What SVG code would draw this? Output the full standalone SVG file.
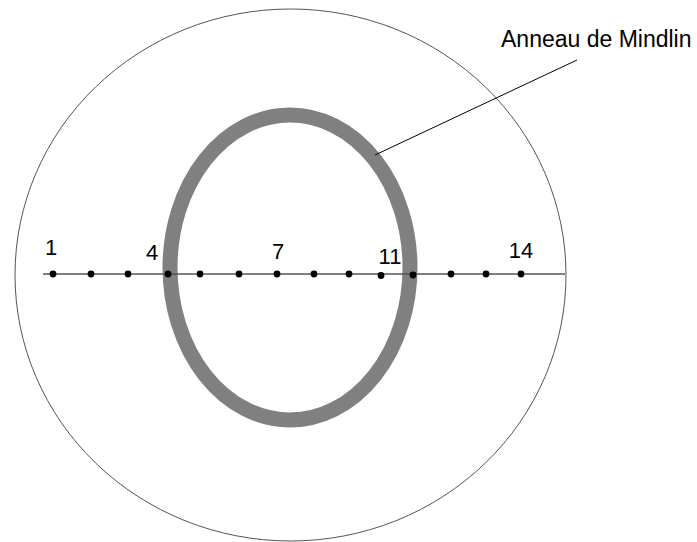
<svg xmlns="http://www.w3.org/2000/svg" width="697" height="542" viewBox="0 0 697 542">
<style>
.lbl{font-family:"Liberation Sans",Arial,sans-serif;font-size:22px;fill:#000}
.dot{fill:#000}
</style>
<rect width="697" height="542" fill="#fff"/>
<g id="outer"><ellipse cx="290.5" cy="275" rx="275.5" ry="266" fill="none" stroke="#555" stroke-width="1"/></g>
<g id="ring"><ellipse cx="290" cy="267.5" rx="120" ry="152.5" fill="none" stroke="#808080" stroke-width="15"/></g>
<g id="connectors">
<line x1="43" y1="274" x2="565" y2="274" stroke="#555" stroke-width="1.3"/>
<line x1="577" y1="60" x2="375" y2="155" stroke="#000" stroke-width="1"/>
</g>
<g id="points">
<circle class="dot" cx="53" cy="274" r="3.4"/>
<circle class="dot" cx="91" cy="274" r="3.4"/>
<circle class="dot" cx="128" cy="274" r="3.4"/>
<circle class="dot" cx="168" cy="274" r="3.4"/>
<circle class="dot" cx="200" cy="274" r="3.4"/>
<circle class="dot" cx="239" cy="274" r="3.4"/>
<circle class="dot" cx="277" cy="274" r="3.4"/>
<circle class="dot" cx="314" cy="274" r="3.4"/>
<circle class="dot" cx="349" cy="274" r="3.4"/>
<circle class="dot" cx="381" cy="275.5" r="3.4"/>
<circle class="dot" cx="413" cy="275" r="3.4"/>
<circle class="dot" cx="451" cy="274" r="3.4"/>
<circle class="dot" cx="486" cy="274" r="3.4"/>
<circle class="dot" cx="521" cy="274" r="3.4"/>
</g>
<g id="labels">
<text class="lbl" x="51" y="255" text-anchor="middle">1</text>
<text class="lbl" x="152" y="260" text-anchor="middle">4</text>
<text class="lbl" x="278" y="259" text-anchor="middle">7</text>
<text class="lbl" x="390" y="264" text-anchor="middle">11</text>
<text class="lbl" x="521" y="258" text-anchor="middle">14</text>
<text class="lbl" x="501" y="47" style="font-size:23px">Anneau de Mindlin</text>
</g>
</svg>
